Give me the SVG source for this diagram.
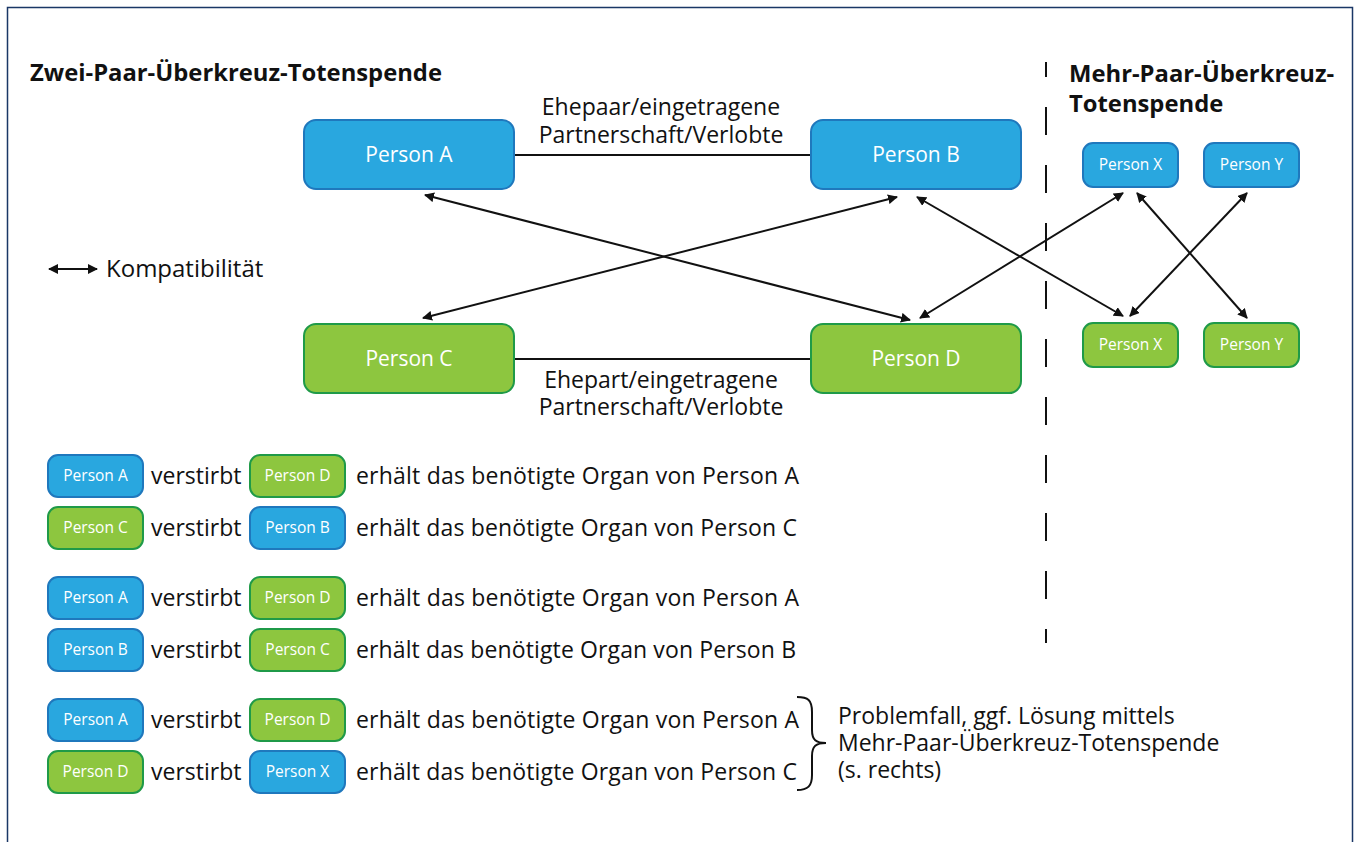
<svg xmlns="http://www.w3.org/2000/svg" width="1359" height="842" viewBox="0 0 1359 842">
<defs>
<marker id="ah" viewBox="0 0 10 10" refX="9" refY="5" markerWidth="10" markerHeight="10" markerUnits="userSpaceOnUse" orient="auto-start-reverse">
<path d="M0,0 L10,5 L0,10 z" fill="#111"/>
</marker>
<style>
text{font-family:"Open Sans","Liberation Sans",sans-serif;fill:#111}
.t{font-size:23px}
.h{font-size:23.8px;font-weight:bold}
.nt{font-size:21px;fill:#fff;text-anchor:middle}
.st{font-size:15.5px;fill:#fff;text-anchor:middle}
.b{fill:#29a7df;stroke:#1f78bd;stroke-width:2}
.g{fill:#8dc63f;stroke:#1f9a48;stroke-width:2}
.c{stroke:#111;stroke-width:2;fill:none}
.a{stroke:#111;stroke-width:2;fill:none;marker-start:url(#ah);marker-end:url(#ah)}
</style>
</defs>
<rect x="7.5" y="7.5" width="1345" height="850" fill="#fff" stroke="#1a3766" stroke-width="1.5"/>
<text class="h" x="30" y="81">Zwei-Paar-Überkreuz-Totenspende</text>
<text class="h" x="1069" y="82">Mehr-Paar-Überkreuz-</text>
<text class="h" x="1069" y="112">Totenspende</text>
<line x1="1046" y1="62" x2="1046" y2="643" stroke="#111" stroke-width="2" stroke-dasharray="28 30" stroke-dashoffset="13"/>
<g id="connectors">
<line class="c" x1="514" y1="155" x2="811" y2="155"/>
<line class="c" x1="514" y1="359" x2="811" y2="359"/>
<line class="a" x1="425" y1="195" x2="910" y2="320"/>
<line class="a" x1="897" y1="197" x2="423" y2="318"/>
<line class="a" x1="917" y1="197" x2="1123" y2="316"/>
<line class="a" x1="920" y1="318" x2="1123" y2="193"/>
<line class="a" x1="1137" y1="193" x2="1247" y2="318"/>
<line class="a" x1="1247" y1="193" x2="1130" y2="316"/>
<line class="a" x1="49" y1="269" x2="97" y2="269"/>
<path class="c" stroke-width="1.5" d="M797,697 C808,697 812,700 812,712 L812,730 C812,740 816,743 826,743 C816,743 812,746 812,756 L812,775 C812,786 808,790 797,790"/>
</g>
<text class="t" x="661" y="115" text-anchor="middle">Ehepaar/eingetragene</text>
<text class="t" x="661" y="143" text-anchor="middle">Partnerschaft/Verlobte</text>
<text class="t" x="661" y="388" text-anchor="middle">Ehepart/eingetragene</text>
<text class="t" x="661" y="415" text-anchor="middle">Partnerschaft/Verlobte</text>
<text class="t" x="106" y="277" style="font-size:24px">Kompatibilität</text>
<g id="personA"><rect class="b" x="304" y="120" width="210" height="69" rx="12"/><text class="nt" x="409" y="162">Person A</text></g>
<g id="personB"><rect class="b" x="811" y="120" width="210" height="69" rx="12"/><text class="nt" x="916" y="162">Person B</text></g>
<g id="personC"><rect class="g" x="304" y="324" width="210" height="69" rx="12"/><text class="nt" x="409" y="366">Person C</text></g>
<g id="personD"><rect class="g" x="811" y="324" width="210" height="69" rx="12"/><text class="nt" x="916" y="366">Person D</text></g>
<g id="personXb"><rect class="b" x="1083" y="143" width="95" height="44" rx="10"/><text class="st" x="1130.5" y="170">Person X</text></g>
<g id="personYb"><rect class="b" x="1204" y="143" width="95" height="44" rx="10"/><text class="st" x="1251.5" y="170">Person Y</text></g>
<g id="personXg"><rect class="g" x="1083" y="323" width="95" height="44" rx="10"/><text class="st" x="1130.5" y="350">Person X</text></g>
<g id="personYg"><rect class="g" x="1204" y="323" width="95" height="44" rx="10"/><text class="st" x="1251.5" y="350">Person Y</text></g>
<g id="row1">
<rect class="b" x="48" y="455" width="95" height="42" rx="10"/><text class="st" x="95.5" y="481">Person A</text>
<text class="t" x="151" y="484">verstirbt</text>
<rect class="g" x="250" y="455" width="95" height="42" rx="10"/><text class="st" x="297.5" y="481">Person D</text>
<text class="t" x="356" y="484" textLength="443">erhält das benötigte Organ von Person A</text>
</g>
<g id="row2">
<rect class="g" x="48" y="507" width="95" height="42" rx="10"/><text class="st" x="95.5" y="533">Person C</text>
<text class="t" x="151" y="536">verstirbt</text>
<rect class="b" x="250" y="507" width="95" height="42" rx="10"/><text class="st" x="297.5" y="533">Person B</text>
<text class="t" x="356" y="536" textLength="441">erhält das benötigte Organ von Person C</text>
</g>
<g id="row3">
<rect class="b" x="48" y="577" width="95" height="42" rx="10"/><text class="st" x="95.5" y="603">Person A</text>
<text class="t" x="151" y="606">verstirbt</text>
<rect class="g" x="250" y="577" width="95" height="42" rx="10"/><text class="st" x="297.5" y="603">Person D</text>
<text class="t" x="356" y="606" textLength="443">erhält das benötigte Organ von Person A</text>
</g>
<g id="row4">
<rect class="b" x="48" y="629" width="95" height="42" rx="10"/><text class="st" x="95.5" y="655">Person B</text>
<text class="t" x="151" y="658">verstirbt</text>
<rect class="g" x="250" y="629" width="95" height="42" rx="10"/><text class="st" x="297.5" y="655">Person C</text>
<text class="t" x="356" y="658" textLength="440">erhält das benötigte Organ von Person B</text>
</g>
<g id="row5">
<rect class="b" x="48" y="699" width="95" height="42" rx="10"/><text class="st" x="95.5" y="725">Person A</text>
<text class="t" x="151" y="728">verstirbt</text>
<rect class="g" x="250" y="699" width="95" height="42" rx="10"/><text class="st" x="297.5" y="725">Person D</text>
<text class="t" x="356" y="728" textLength="443">erhält das benötigte Organ von Person A</text>
</g>
<g id="row6">
<rect class="g" x="48" y="751" width="95" height="42" rx="10"/><text class="st" x="95.5" y="777">Person D</text>
<text class="t" x="151" y="780">verstirbt</text>
<rect class="b" x="250" y="751" width="95" height="42" rx="10"/><text class="st" x="297.5" y="777">Person X</text>
<text class="t" x="356" y="780" textLength="441">erhält das benötigte Organ von Person C</text>
</g>
<text class="t" x="838" y="724">Problemfall, ggf. Lösung mittels</text>
<text class="t" x="838" y="751">Mehr-Paar-Überkreuz-Totenspende</text>
<text class="t" x="838" y="778">(s. rechts)</text>
</svg>
